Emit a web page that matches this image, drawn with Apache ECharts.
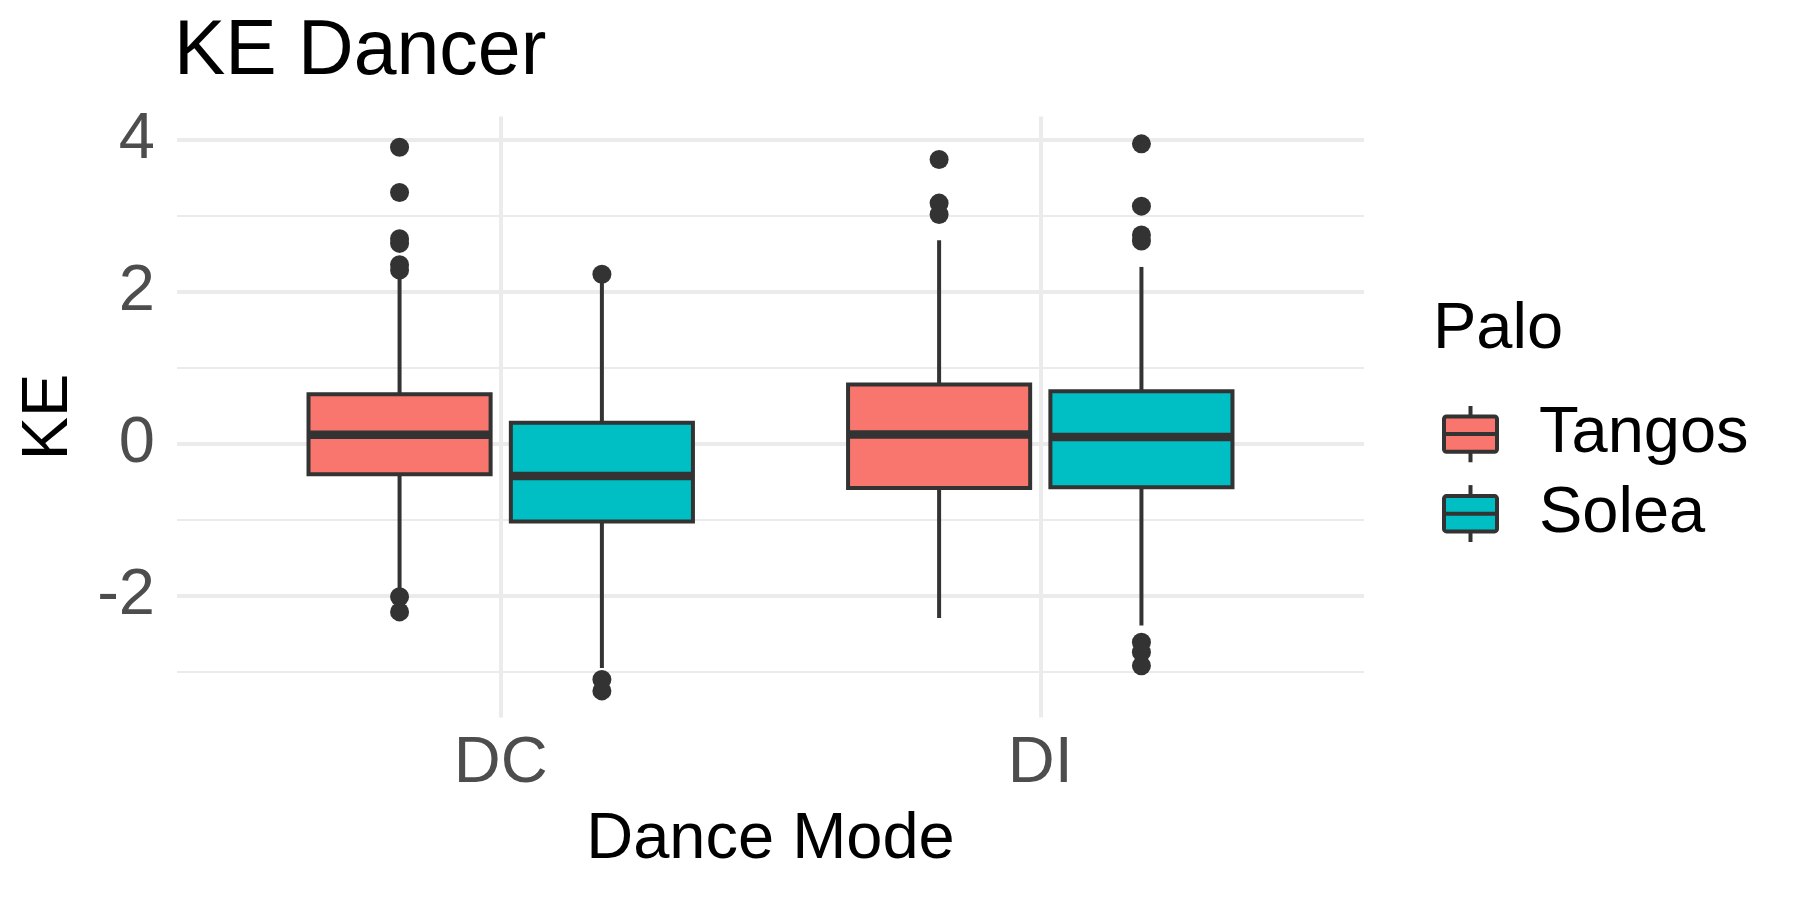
<!DOCTYPE html>
<html><head><meta charset="utf-8">
<script src="https://cdn.jsdelivr.net/npm/echarts@6/dist/echarts.min.js"></script>
<style>html,body{margin:0;padding:0;background:#fff}#c{width:1800px;height:900px}</style>
</head><body><div id="c"></div>
<script>
// ---- data ----
const categories = ['DC', 'DI'];
const groups = ['Tangos', 'Solea'];
const groupColors = ['#F8766D', '#00BFC4'];
const yTickLabels = [-2, 0, 2, 4];
// [low whisker, Q1, median, Q3, high whisker] per category
const tangosBox = [[-1.94, -0.40, 0.12, 0.654, 2.20], [-2.29, -0.58, 0.124, 0.783, 2.68]];
const soleaBox  = [[-2.95, -1.02, -0.42, 0.28, 2.15], [-2.39, -0.571, 0.093, 0.695, 2.33]];
const tangosOutliers = [['DC', 3.905], ['DC', 3.31], ['DC', 2.70], ['DC', 2.64], ['DC', 2.36], ['DC', 2.29],
  ['DC', -2.01], ['DC', -2.21], ['DI', 3.745], ['DI', 3.17], ['DI', 3.02]];
const soleaOutliers = [['DC', 2.235], ['DC', -3.10], ['DC', -3.25], ['DI', 3.95], ['DI', 3.13], ['DI', 2.75],
  ['DI', 2.67], ['DI', -2.61], ['DI', -2.74], ['DI', -2.92]];

// ---- layout helpers ----
const DODGE = 0.1875, BOX_W = 0.3375;
const FONT = 'Liberation Sans, Arial, Helvetica, sans-serif';
const pos = c => categories.indexOf(c) + 1;
const boxData = arr => arr.map((b, i) => [i + 1].concat(b));
const outData = (arr, off) => arr.map(o => [pos(o[0]) + off, o[1]]);

function legendIcon(color) {
  const svg = '<svg xmlns="http://www.w3.org/2000/svg" width="57" height="57" viewBox="0 0 57 57">' +
    '<path d="M28.5 0V57" stroke="#333333" stroke-width="4"/>' +
    '<rect x="2" y="11" width="53" height="35.3" rx="2.5" fill="' + color + '" stroke="#333333" stroke-width="4"/>' +
    '<path d="M2 28.6H55" stroke="#333333" stroke-width="4"/></svg>';
  return 'image://data:image/svg+xml;charset=utf-8,' + encodeURIComponent(svg);
}

function boxRender(offset) {
  return function (params, api) {
    const x = api.value(0) + offset;
    const lo = api.coord([x, api.value(1)]);
    const q1 = api.coord([x, api.value(2)]);
    const md = api.coord([x, api.value(3)]);
    const q3 = api.coord([x, api.value(4)]);
    const hi = api.coord([x, api.value(5)]);
    const hw = api.size([BOX_W, 0])[0] / 2;
    const ls = { stroke: '#333333', lineWidth: 4 };
    return {
      type: 'group',
      children: [
        { type: 'line', shape: { x1: lo[0], y1: lo[1], x2: q1[0], y2: q1[1] }, style: ls },
        { type: 'line', shape: { x1: q3[0], y1: q3[1], x2: hi[0], y2: hi[1] }, style: ls },
        { type: 'rect', shape: { x: q3[0] - hw, y: q3[1], width: 2 * hw, height: q1[1] - q3[1] },
          style: { fill: api.visual('color'), stroke: '#333333', lineWidth: 4 } },
        { type: 'line', shape: { x1: md[0] - hw, y1: md[1], x2: md[0] + hw, y2: md[1] },
          style: { stroke: '#333333', lineWidth: 8.5 } }
      ]
    };
  };
}

const chart = echarts.init(document.getElementById('c'), null, { renderer: 'canvas' });
chart.setOption({
  animation: false,
  backgroundColor: '#ffffff',
  textStyle: { fontFamily: FONT },
  title: [
    { text: 'KE Dancer', left: 174, top: 14, padding: 0,
      textStyle: { fontFamily: FONT, fontSize: 77, fontWeight: 'normal', color: '#000000' } },
    { text: 'Palo', left: 1433, top: 298, padding: 0,
      textStyle: { fontFamily: FONT, fontSize: 65, fontWeight: 'normal', color: '#000000' } }
  ],
  legend: {
    data: groups.map((g, i) => ({ name: g, icon: legendIcon(groupColors[i]) })),
    orient: 'vertical',
    left: 1442, top: 401.5, padding: 0,
    itemWidth: 57, itemHeight: 57, itemGap: 14.6,
    textStyle: { fontFamily: FONT, fontSize: 65, color: '#000000', lineHeight: 57, padding: [0, 0, 0, 35] },
    selectedMode: false
  },
  grid: { left: 177, right: 436, top: 116.5, height: 601, containLabel: false },
  xAxis: {
    type: 'value', min: 0.4, max: 2.6, splitNumber: 2,
    axisLine: { show: false }, axisTick: { show: false },
    axisLabel: {
      margin: 14, fontSize: 65, color: '#4D4D4D', fontFamily: FONT,
      showMinLabel: false, showMaxLabel: false,
      formatter: v => (Number.isInteger(v) && v >= 1 && v <= categories.length) ? categories[v - 1] : ''
    },
    splitLine: { show: true, showMinLine: false, showMaxLine: false, lineStyle: { color: '#EBEBEB', width: 4 } },
    name: 'Dance Mode', nameLocation: 'middle', nameGap: 90,
    nameTextStyle: { fontSize: 65, color: '#000000', fontFamily: FONT }
  },
  yAxis: {
    type: 'value', min: -3.6, max: 4.31,
    axisLine: { show: false }, axisTick: { show: false },
    axisLabel: {
      margin: 22, fontSize: 65, color: '#4D4D4D', fontFamily: FONT,
      showMinLabel: false, showMaxLabel: false,
      formatter: v => yTickLabels.indexOf(v) >= 0 ? String(v) : ''
    },
    splitLine: { show: true, showMinLine: false, showMaxLine: false, lineStyle: { color: '#EBEBEB', width: 4 } },
    minorTick: { show: false, splitNumber: 2 },
    minorSplitLine: { show: true, lineStyle: { color: '#EBEBEB', width: 2.2 } },
    name: 'KE', nameLocation: 'middle', nameGap: 95, nameRotate: 90,
    nameTextStyle: { fontSize: 65, color: '#000000', fontFamily: FONT }
  },
  series: [
    { name: 'Tangos', type: 'custom', renderItem: boxRender(-DODGE), data: boxData(tangosBox),
      encode: { x: 0, y: [1, 2, 3, 4, 5] }, itemStyle: { color: groupColors[0] }, z: 2 },
    { name: 'Solea', type: 'custom', renderItem: boxRender(DODGE), data: boxData(soleaBox),
      encode: { x: 0, y: [1, 2, 3, 4, 5] }, itemStyle: { color: groupColors[1] }, z: 2 },
    { name: 'Tangos outliers', type: 'scatter', data: outData(tangosOutliers, -DODGE),
      symbolSize: 19, itemStyle: { color: '#333333', opacity: 1 }, z: 3, silent: true },
    { name: 'Solea outliers', type: 'scatter', data: outData(soleaOutliers, DODGE),
      symbolSize: 19, itemStyle: { color: '#333333', opacity: 1 }, z: 3, silent: true }
  ]
});
</script></body></html>
